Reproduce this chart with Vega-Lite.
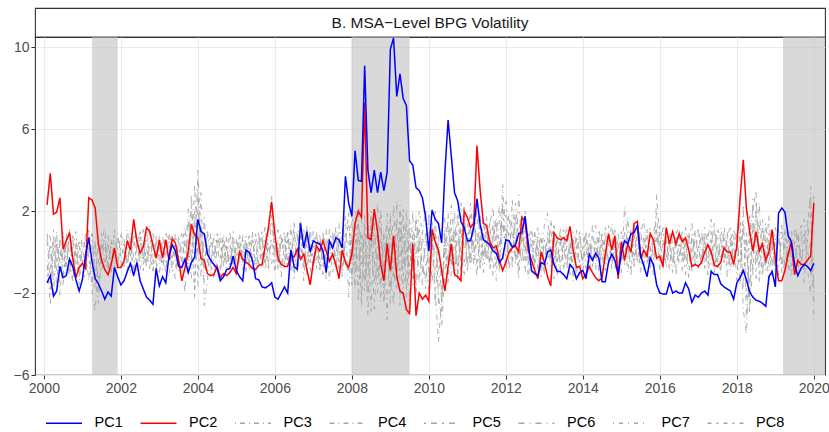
{
  "$schema": "https://vega.github.io/schema/vega-lite/v6.json",
  "background": "white",
  "padding": {"left": 12, "top": 7, "right": 5, "bottom": 0},
  "spacing": 0,
  "bounds": "flush",
  "config": {
    "font": "Liberation Sans",
    "axis": {
      "grid": true,
      "gridColor": "#EBEBEB",
      "gridWidth": 1.1,
      "domain": false,
      "ticks": true,
      "tickColor": "#333333",
      "tickSize": 4,
      "labelFontSize": 14,
      "labelColor": "#4D4D4D",
      "labelPadding": 2
    }
  },
  "vconcat": [
    {
      "width": 790,
      "height": 29,
      "view": {"stroke": "#333333", "strokeWidth": 1.1, "fill": "white"},
      "data": {"values": [{"label": "B. MSA−Level BPG Volatility"}]},
      "mark": {"type": "text", "fontSize": 15.5, "color": "#1A1A1A", "baseline": "middle", "align": "center"},
      "encoding": {"text": {"field": "label", "type": "nominal"}}
    },
    {
      "width": 790,
      "height": 338,
      "view": {"stroke": "#333333", "strokeWidth": 1.1},
      "layer": [
        {
          "data": {"values": [
            {"start": 2001.25, "end": 2001.917},
            {"start": 2007.99, "end": 2009.5},
            {"start": 2019.2, "end": 2020.6}
          ]},
          "mark": {"type": "rect", "color": "#BFBFBF", "opacity": 0.6, "clip": true},
          "encoding": {
            "x": {"field": "start", "type": "quantitative", "scale": {"domain": [1999.77, 2020.29], "nice": false, "zero": false},
                  "axis": {"values": [2000, 2002, 2004, 2006, 2008, 2010, 2012, 2014, 2016, 2018, 2020], "format": "d", "title": null}},
            "x2": {"field": "end"}
          }
        },
        {
          "data": {"name": "pcs"},
          "transform": [
            {"fold": ["PC1", "PC2", "PC3", "PC4", "PC5", "PC6", "PC7", "PC8"], "as": ["series", "value"]},
            {"filter": {"field": "series", "oneOf": ["PC3", "PC4", "PC5", "PC6", "PC7", "PC8"]}}
          ],
          "mark": {"type": "line", "strokeWidth": 0.9, "clip": true},
          "encoding": {
            "x": {"field": "t", "type": "quantitative"},
            "y": {"field": "value", "type": "quantitative", "scale": {"domain": [-6, 10.5], "nice": false, "zero": false},
                  "axis": {"values": [-6, -2, 2, 6, 10], "format": "d", "title": null}},
            "color": {"field": "series", "type": "nominal",
              "scale": {"domain": ["PC1", "PC2", "PC3", "PC4", "PC5", "PC6", "PC7", "PC8"],
                        "range": ["#0000FF", "#FF0000", "#A6A6A6", "#A6A6A6", "#A6A6A6", "#A6A6A6", "#A6A6A6", "#A6A6A6"]},
              "legend": {"orient": "none", "legendX": 10, "legendY": 396, "direction": "horizontal", "columns": 8, "title": null,
                         "symbolType": "stroke", "symbolSize": 1296, "symbolStrokeWidth": 1.5, "labelFontSize": 14.5,
                         "labelColor": "#000000", "labelOffset": 11.5, "columnPadding": 14.5, "padding": 0}},
            "strokeDash": {"field": "series", "type": "nominal",
              "scale": {"domain": ["PC1", "PC2", "PC3", "PC4", "PC5", "PC6", "PC7", "PC8"],
                        "range": [[1, 0], [1, 0], [1, 4, 5, 4], [5, 4, 1, 4], [2, 5, 6, 5], [6, 5, 1, 5], [1, 5, 4, 5], [4, 5, 2, 5]]},
              "legend": {"orient": "none", "legendX": 10, "legendY": 396, "direction": "horizontal", "columns": 8, "title": null,
                         "symbolType": "stroke", "symbolSize": 1296, "symbolStrokeWidth": 1.5, "labelFontSize": 14.5,
                         "labelColor": "#000000", "labelOffset": 11.5, "columnPadding": 14.5, "padding": 0}}
          }
        },
        {
          "data": {"name": "pcs"},
          "transform": [
            {"fold": ["PC1", "PC2", "PC3", "PC4", "PC5", "PC6", "PC7", "PC8"], "as": ["series", "value"]},
            {"filter": {"field": "series", "equal": "PC2"}}
          ],
          "mark": {"type": "line", "strokeWidth": 1.5, "clip": true},
          "encoding": {
            "x": {"field": "t", "type": "quantitative"},
            "y": {"field": "value", "type": "quantitative"},
            "color": {"field": "series", "type": "nominal"},
            "strokeDash": {"field": "series", "type": "nominal"}
          }
        },
        {
          "data": {"name": "pcs"},
          "transform": [
            {"fold": ["PC1", "PC2", "PC3", "PC4", "PC5", "PC6", "PC7", "PC8"], "as": ["series", "value"]},
            {"filter": {"field": "series", "equal": "PC1"}}
          ],
          "mark": {"type": "line", "strokeWidth": 1.5, "clip": true},
          "encoding": {
            "x": {"field": "t", "type": "quantitative"},
            "y": {"field": "value", "type": "quantitative"},
            "color": {"field": "series", "type": "nominal"},
            "strokeDash": {"field": "series", "type": "nominal"}
          }
        },
        {
          "mark": {"type": "rule", "color": "#000000", "strokeDash": [6, 5], "strokeWidth": 1.2},
          "encoding": {"y": {"datum": 0}}
        }
      ]
    }
  ],
  "datasets": {
    "pcs": [
      {"t":2000.083,"PC1":-1.5,"PC2":2.3,"PC3":-0.4,"PC4":0.6,"PC5":-1.2,"PC6":0.9,"PC7":-0.7,"PC8":0.3},
      {"t":2000.167,"PC1":-1.15,"PC2":3.85,"PC3":-2.6,"PC4":-1.5,"PC5":0.4,"PC6":-0.8,"PC7":-1.8,"PC8":0.9},
      {"t":2000.25,"PC1":-2.15,"PC2":1.85,"PC3":0.8,"PC4":-0.3,"PC5":-2.2,"PC6":0.2,"PC7":1.1,"PC8":-1.4},
      {"t":2000.333,"PC1":-1.9,"PC2":1.95,"PC3":-0.9,"PC4":1.0,"PC5":0.6,"PC6":-1.6,"PC7":-0.4,"PC8":0.4},
      {"t":2000.417,"PC1":-0.7,"PC2":2.65,"PC3":0.5,"PC4":-2.1,"PC5":-0.4,"PC6":0.6,"PC7":-1.0,"PC8":-0.5},
      {"t":2000.5,"PC1":-1.25,"PC2":0.15,"PC3":-1.2,"PC4":0.3,"PC5":1.0,"PC6":-0.5,"PC7":0.7,"PC8":-1.7},
      {"t":2000.583,"PC1":-1.15,"PC2":0.55,"PC3":0.9,"PC4":-0.8,"PC5":-1.1,"PC6":0.4,"PC7":-0.6,"PC8":0.6},
      {"t":2000.667,"PC1":-0.35,"PC2":0.95,"PC3":-0.3,"PC4":1.1,"PC5":-0.2,"PC6":-1.3,"PC7":0.9,"PC8":-0.9},
      {"t":2000.75,"PC1":-0.7,"PC2":-0.3,"PC3":-1.5,"PC4":-0.5,"PC5":0.7,"PC6":0.8,"PC7":-1.4,"PC8":0.2},
      {"t":2000.833,"PC1":-1.35,"PC2":-1.25,"PC3":0.4,"PC4":0.2,"PC5":-0.9,"PC6":-0.2,"PC7":0.5,"PC8":1.0},
      {"t":2000.917,"PC1":-1.9,"PC2":-0.75,"PC3":-0.8,"PC4":-1.6,"PC5":0.3,"PC6":0.5,"PC7":-0.3,"PC8":-1.2},
      {"t":2001.0,"PC1":-1.35,"PC2":-0.55,"PC3":0.2,"PC4":0.7,"PC5":-0.6,"PC6":-1.0,"PC7":0.9,"PC8":-0.4},
      {"t":2001.083,"PC1":-0.15,"PC2":-0.8,"PC3":-0.6,"PC4":0.2,"PC5":1.0,"PC6":-1.3,"PC7":0.6,"PC8":-0.5},
      {"t":2001.167,"PC1":0.7,"PC2":2.65,"PC3":0.9,"PC4":-1.4,"PC5":-0.3,"PC6":0.5,"PC7":-0.7,"PC8":1.2},
      {"t":2001.25,"PC1":-0.45,"PC2":2.55,"PC3":-1.9,"PC4":0.9,"PC5":-1.6,"PC6":0.9,"PC7":-0.8,"PC8":-0.4},
      {"t":2001.333,"PC1":-1.3,"PC2":2.15,"PC3":-2.9,"PC4":-1.0,"PC5":0.6,"PC6":-1.2,"PC7":0.4,"PC8":-1.8},
      {"t":2001.417,"PC1":-1.55,"PC2":0.4,"PC3":-0.5,"PC4":-2.5,"PC5":-2.0,"PC6":0.3,"PC7":-1.3,"PC8":0.7},
      {"t":2001.5,"PC1":-1.9,"PC2":-0.4,"PC3":0.6,"PC4":0.4,"PC5":-0.4,"PC6":-0.9,"PC7":0.9,"PC8":-0.2},
      {"t":2001.583,"PC1":-2.3,"PC2":-0.85,"PC3":-0.7,"PC4":1.2,"PC5":0.8,"PC6":-0.3,"PC7":-0.5,"PC8":0.3},
      {"t":2001.667,"PC1":-1.95,"PC2":-1.1,"PC3":0.4,"PC4":-0.6,"PC5":-1.1,"PC6":0.8,"PC7":0.2,"PC8":-0.9},
      {"t":2001.75,"PC1":-2.15,"PC2":-0.6,"PC3":-0.9,"PC4":0.3,"PC5":0.5,"PC6":-1.0,"PC7":0.7,"PC8":0.6},
      {"t":2001.833,"PC1":-0.75,"PC2":0.2,"PC3":1.1,"PC4":-0.8,"PC5":-0.2,"PC6":0.4,"PC7":-0.6,"PC8":0.8},
      {"t":2001.917,"PC1":-1.2,"PC2":-0.75,"PC3":-0.2,"PC4":0.9,"PC5":-0.7,"PC6":0.2,"PC7":0.4,"PC8":-0.7},
      {"t":2002.0,"PC1":-1.6,"PC2":-0.75,"PC3":-0.8,"PC4":-0.3,"PC5":1.0,"PC6":-0.5,"PC7":0.6,"PC8":0.3},
      {"t":2002.083,"PC1":-1.4,"PC2":-0.45,"PC3":0.5,"PC4":-0.7,"PC5":0.2,"PC6":-0.8,"PC7":-0.4,"PC8":0.7},
      {"t":2002.167,"PC1":-0.95,"PC2":0.55,"PC3":-0.6,"PC4":1.1,"PC5":-0.9,"PC6":0.6,"PC7":0.2,"PC8":-0.5},
      {"t":2002.25,"PC1":-0.55,"PC2":0.1,"PC3":0.9,"PC4":-0.2,"PC5":0.5,"PC6":-0.2,"PC7":-1.0,"PC8":0.4},
      {"t":2002.333,"PC1":-1.15,"PC2":1.6,"PC3":-0.3,"PC4":0.6,"PC5":-1.2,"PC6":0.9,"PC7":0.4,"PC8":-0.8},
      {"t":2002.417,"PC1":-0.5,"PC2":0.5,"PC3":-1.1,"PC4":0.9,"PC5":0.3,"PC6":-0.5,"PC7":0.8,"PC8":0.5},
      {"t":2002.5,"PC1":-1.4,"PC2":-0.05,"PC3":0.7,"PC4":-0.9,"PC5":1.0,"PC6":0.3,"PC7":-0.3,"PC8":0.9},
      {"t":2002.583,"PC1":-1.8,"PC2":0.25,"PC3":-0.4,"PC4":0.3,"PC5":-0.6,"PC6":1.1,"PC7":-0.9,"PC8":-0.1},
      {"t":2002.667,"PC1":-2.2,"PC2":1.2,"PC3":1.0,"PC4":-0.5,"PC5":0.2,"PC6":-0.8,"PC7":0.5,"PC8":-0.6},
      {"t":2002.75,"PC1":-2.35,"PC2":1.0,"PC3":-0.2,"PC4":1.3,"PC5":-0.8,"PC6":0.4,"PC7":0.9,"PC8":0.3},
      {"t":2002.833,"PC1":-2.55,"PC2":0.35,"PC3":-1.0,"PC4":-0.4,"PC5":0.9,"PC6":0.3,"PC7":-0.7,"PC8":-0.9},
      {"t":2002.917,"PC1":-0.8,"PC2":-0.3,"PC3":0.5,"PC4":-0.9,"PC5":-0.3,"PC6":-0.5,"PC7":0.6,"PC8":0.8},
      {"t":2003.0,"PC1":-1.65,"PC2":0.6,"PC3":-0.6,"PC4":0.8,"PC5":0.4,"PC6":-1.1,"PC7":0.2,"PC8":-0.2},
      {"t":2003.083,"PC1":-1.2,"PC2":-0.3,"PC3":0.8,"PC4":-0.3,"PC5":-0.9,"PC6":0.4,"PC7":-0.5,"PC8":0.3},
      {"t":2003.167,"PC1":-1.5,"PC2":0.6,"PC3":-0.5,"PC4":1.0,"PC5":0.3,"PC6":-1.1,"PC7":0.7,"PC8":-0.2},
      {"t":2003.25,"PC1":-0.2,"PC2":-0.4,"PC3":-1.2,"PC4":0.4,"PC5":0.7,"PC6":0.9,"PC7":-0.3,"PC8":0.8},
      {"t":2003.333,"PC1":0.35,"PC2":0.65,"PC3":0.6,"PC4":-0.7,"PC5":-0.4,"PC6":0.3,"PC7":0.9,"PC8":-1.0},
      {"t":2003.417,"PC1":0.05,"PC2":0.45,"PC3":0.1,"PC4":-1.3,"PC5":0.9,"PC6":-0.4,"PC7":-0.7,"PC8":0.7},
      {"t":2003.5,"PC1":-0.7,"PC2":-0.4,"PC3":-0.9,"PC4":0.8,"PC5":-0.3,"PC6":0.6,"PC7":-0.2,"PC8":0.5},
      {"t":2003.583,"PC1":-0.75,"PC2":-1.4,"PC3":0.4,"PC4":-0.2,"PC5":-1.0,"PC6":0.9,"PC7":0.6,"PC8":-0.5},
      {"t":2003.667,"PC1":-0.35,"PC2":-0.75,"PC3":1.2,"PC4":-2.0,"PC5":0.6,"PC6":-0.6,"PC7":0.3,"PC8":0.9},
      {"t":2003.75,"PC1":-1.0,"PC2":0.05,"PC3":-0.3,"PC4":1.6,"PC5":-0.9,"PC6":2.1,"PC7":-0.6,"PC8":0.4},
      {"t":2003.833,"PC1":-0.5,"PC2":1.35,"PC3":2.8,"PC4":-0.5,"PC5":2.2,"PC6":-0.3,"PC7":1.4,"PC8":-1.3},
      {"t":2003.917,"PC1":-0.25,"PC2":0.85,"PC3":-1.9,"PC4":3.3,"PC5":0.4,"PC6":1.5,"PC7":-2.3,"PC8":2.0},
      {"t":2004.0,"PC1":1.6,"PC2":0.7,"PC3":4.0,"PC4":-0.2,"PC5":3.4,"PC6":-0.8,"PC7":2.6,"PC8":-1.7},
      {"t":2004.083,"PC1":1.0,"PC2":-0.3,"PC3":0.6,"PC4":2.9,"PC5":-1.2,"PC6":1.4,"PC7":-0.4,"PC8":1.2},
      {"t":2004.167,"PC1":0.9,"PC2":-0.4,"PC3":-0.8,"PC4":-2.6,"PC5":1.7,"PC6":-1.5,"PC7":0.6,"PC8":-0.4},
      {"t":2004.25,"PC1":-0.1,"PC2":-1.05,"PC3":1.1,"PC4":-1.4,"PC5":-0.5,"PC6":0.4,"PC7":0.9,"PC8":0.5},
      {"t":2004.333,"PC1":-0.4,"PC2":-1.15,"PC3":-0.4,"PC4":0.9,"PC5":0.3,"PC6":-0.6,"PC7":-1.1,"PC8":0.7},
      {"t":2004.417,"PC1":-0.6,"PC2":-1.1,"PC3":-1.3,"PC4":-0.2,"PC5":0.7,"PC6":0.9,"PC7":0.3,"PC8":-0.7},
      {"t":2004.5,"PC1":-0.8,"PC2":-0.7,"PC3":0.2,"PC4":0.6,"PC5":-0.8,"PC6":0.4,"PC7":-0.2,"PC8":0.9},
      {"t":2004.583,"PC1":-1.4,"PC2":-1.25,"PC3":0.9,"PC4":-0.9,"PC5":-1.1,"PC6":-0.3,"PC7":0.6,"PC8":0.3},
      {"t":2004.667,"PC1":-1.2,"PC2":-1.05,"PC3":-0.6,"PC4":0.4,"PC5":0.6,"PC6":0.9,"PC7":-0.7,"PC8":-0.4},
      {"t":2004.75,"PC1":-0.85,"PC2":-1.15,"PC3":0.3,"PC4":-0.5,"PC5":0.1,"PC6":-0.8,"PC7":0.8,"PC8":0.6},
      {"t":2004.833,"PC1":-0.8,"PC2":-1.0,"PC3":-1.0,"PC4":1.0,"PC5":-0.5,"PC6":0.2,"PC7":0.4,"PC8":-0.8},
      {"t":2004.917,"PC1":-0.2,"PC2":-0.75,"PC3":0.5,"PC4":-0.6,"PC5":1.0,"PC6":-0.4,"PC7":-0.7,"PC8":0.3},
      {"t":2005.0,"PC1":-0.9,"PC2":-1.05,"PC3":-0.2,"PC4":0.3,"PC5":-0.9,"PC6":0.7,"PC7":0.5,"PC8":-0.4},
      {"t":2005.083,"PC1":-1.2,"PC2":0.0,"PC3":0.7,"PC4":-0.4,"PC5":0.3,"PC6":-0.6,"PC7":0.2,"PC8":0.9},
      {"t":2005.167,"PC1":-1.4,"PC2":-0.35,"PC3":-0.9,"PC4":0.8,"PC5":-0.5,"PC6":0.3,"PC7":0.6,"PC8":-0.3},
      {"t":2005.25,"PC1":0.1,"PC2":-0.5,"PC3":0.4,"PC4":-1.0,"PC5":0.8,"PC6":-0.1,"PC7":-0.6,"PC8":0.5},
      {"t":2005.333,"PC1":0.0,"PC2":-0.6,"PC3":-0.3,"PC4":0.5,"PC5":-0.9,"PC6":0.8,"PC7":0.3,"PC8":-0.6},
      {"t":2005.417,"PC1":-0.4,"PC2":-0.8,"PC3":1.0,"PC4":-0.3,"PC5":-0.2,"PC6":-0.8,"PC7":0.8,"PC8":0.6},
      {"t":2005.5,"PC1":-1.3,"PC2":-0.85,"PC3":-1.1,"PC4":0.9,"PC5":0.5,"PC6":-0.4,"PC7":-0.7,"PC8":-0.5},
      {"t":2005.583,"PC1":-1.35,"PC2":-0.65,"PC3":0.2,"PC4":-0.7,"PC5":1.0,"PC6":0.7,"PC7":-0.3,"PC8":0.9},
      {"t":2005.667,"PC1":-1.7,"PC2":-0.6,"PC3":0.8,"PC4":0.2,"PC5":-0.8,"PC6":-0.2,"PC7":1.0,"PC8":0.4},
      {"t":2005.75,"PC1":-1.75,"PC2":0.3,"PC3":-0.6,"PC4":1.3,"PC5":-0.3,"PC6":0.6,"PC7":-0.9,"PC8":-0.4},
      {"t":2005.833,"PC1":-1.65,"PC2":1.2,"PC3":1.2,"PC4":-0.5,"PC5":0.9,"PC6":-0.9,"PC7":0.4,"PC8":0.2},
      {"t":2005.917,"PC1":-1.5,"PC2":2.45,"PC3":2.8,"PC4":0.6,"PC5":1.5,"PC6":1.8,"PC7":-0.6,"PC8":0.6},
      {"t":2006.0,"PC1":-2.2,"PC2":0.9,"PC3":-0.8,"PC4":1.1,"PC5":0.4,"PC6":-0.2,"PC7":0.8,"PC8":-1.0},
      {"t":2006.083,"PC1":-2.3,"PC2":-0.3,"PC3":0.3,"PC4":-0.9,"PC5":-0.6,"PC6":1.1,"PC7":-0.5,"PC8":0.5},
      {"t":2006.167,"PC1":-2.0,"PC2":-0.6,"PC3":-1.2,"PC4":0.8,"PC5":0.5,"PC6":-0.4,"PC7":0.3,"PC8":0.9},
      {"t":2006.25,"PC1":-1.7,"PC2":-0.7,"PC3":0.6,"PC4":-0.3,"PC5":1.0,"PC6":-0.8,"PC7":0.9,"PC8":-0.6},
      {"t":2006.333,"PC1":-2.0,"PC2":-0.7,"PC3":-0.4,"PC4":1.0,"PC5":-0.8,"PC6":0.6,"PC7":-0.6,"PC8":1.1},
      {"t":2006.417,"PC1":0.1,"PC2":-0.1,"PC3":1.3,"PC4":-0.6,"PC5":0.2,"PC6":-0.2,"PC7":0.5,"PC8":-0.9},
      {"t":2006.5,"PC1":-0.7,"PC2":-0.25,"PC3":-0.9,"PC4":1.5,"PC5":-1.3,"PC6":0.8,"PC7":1.0,"PC8":0.4},
      {"t":2006.583,"PC1":-0.85,"PC2":0.15,"PC3":0.5,"PC4":-1.0,"PC5":0.9,"PC6":1.0,"PC7":-0.8,"PC8":-0.2},
      {"t":2006.667,"PC1":1.4,"PC2":-0.35,"PC3":1.7,"PC4":0.4,"PC5":0.3,"PC6":-0.3,"PC7":-0.4,"PC8":0.9},
      {"t":2006.75,"PC1":0.2,"PC2":-0.1,"PC3":-1.4,"PC4":0.9,"PC5":-0.7,"PC6":0.5,"PC7":1.1,"PC8":-0.5},
      {"t":2006.833,"PC1":1.0,"PC2":-0.85,"PC3":0.7,"PC4":-1.1,"PC5":1.3,"PC6":-0.6,"PC7":0.3,"PC8":0.8},
      {"t":2006.917,"PC1":0.0,"PC2":-1.6,"PC3":-0.5,"PC4":1.2,"PC5":-0.2,"PC6":0.9,"PC7":-1.0,"PC8":0.3},
      {"t":2007.0,"PC1":0.55,"PC2":-0.5,"PC3":1.1,"PC4":-0.4,"PC5":0.6,"PC6":-0.9,"PC7":0.4,"PC8":-0.7},
      {"t":2007.083,"PC1":0.45,"PC2":0.3,"PC3":-0.8,"PC4":0.9,"PC5":0.4,"PC6":0.3,"PC7":-0.4,"PC8":1.0},
      {"t":2007.167,"PC1":0.4,"PC2":0.05,"PC3":0.4,"PC4":-0.7,"PC5":-1.0,"PC6":0.9,"PC7":0.8,"PC8":-0.5},
      {"t":2007.25,"PC1":0.05,"PC2":0.55,"PC3":1.0,"PC4":0.3,"PC5":0.8,"PC6":-1.1,"PC7":-0.6,"PC8":-0.8},
      {"t":2007.333,"PC1":-1.0,"PC2":0.05,"PC3":-1.3,"PC4":1.1,"PC5":-0.5,"PC6":0.5,"PC7":0.3,"PC8":0.7},
      {"t":2007.417,"PC1":0.55,"PC2":-0.45,"PC3":0.6,"PC4":-1.4,"PC5":1.1,"PC6":-0.4,"PC7":0.7,"PC8":0.3},
      {"t":2007.5,"PC1":0.2,"PC2":-0.1,"PC3":-0.2,"PC4":0.8,"PC5":0.2,"PC6":1.0,"PC7":-1.1,"PC8":0.6},
      {"t":2007.583,"PC1":0.7,"PC2":-0.6,"PC3":1.2,"PC4":-0.3,"PC5":-0.9,"PC6":-0.7,"PC7":0.6,"PC8":1.0},
      {"t":2007.667,"PC1":0.6,"PC2":-1.3,"PC3":-0.9,"PC4":1.4,"PC5":0.7,"PC6":0.4,"PC7":0.2,"PC8":-0.6},
      {"t":2007.75,"PC1":0.2,"PC2":0.1,"PC3":0.3,"PC4":-1.0,"PC5":1.2,"PC6":-1.2,"PC7":-0.7,"PC8":0.9},
      {"t":2007.833,"PC1":3.7,"PC2":-0.5,"PC3":1.8,"PC4":0.5,"PC5":-0.6,"PC6":0.6,"PC7":1.0,"PC8":-0.4},
      {"t":2007.917,"PC1":2.4,"PC2":-0.75,"PC3":-2.2,"PC4":2.0,"PC5":-1.0,"PC6":1.4,"PC7":0.4,"PC8":-0.6},
      {"t":2008.0,"PC1":1.75,"PC2":-0.1,"PC3":0.9,"PC4":-1.6,"PC5":2.1,"PC6":-0.4,"PC7":-1.3,"PC8":0.3},
      {"t":2008.083,"PC1":4.95,"PC2":1.4,"PC3":-1.8,"PC4":1.5,"PC5":-0.6,"PC6":0.9,"PC7":2.0,"PC8":-1.0},
      {"t":2008.167,"PC1":3.5,"PC2":2.0,"PC3":2.2,"PC4":-2.4,"PC5":0.9,"PC6":-1.6,"PC7":-0.5,"PC8":1.5},
      {"t":2008.25,"PC1":3.45,"PC2":1.7,"PC3":-2.7,"PC4":0.8,"PC5":-2.1,"PC6":1.6,"PC7":0.9,"PC8":-0.6},
      {"t":2008.333,"PC1":9.1,"PC2":7.3,"PC3":1.4,"PC4":-1.6,"PC5":1.9,"PC6":-0.5,"PC7":-1.9,"PC8":0.9},
      {"t":2008.417,"PC1":4.0,"PC2":0.7,"PC3":-3.1,"PC4":2.0,"PC5":-0.8,"PC6":-2.2,"PC7":1.2,"PC8":-1.5},
      {"t":2008.5,"PC1":2.9,"PC2":0.6,"PC3":0.6,"PC4":-2.9,"PC5":1.4,"PC6":1.8,"PC7":0.3,"PC8":2.0},
      {"t":2008.583,"PC1":4.0,"PC2":2.1,"PC3":-1.5,"PC4":1.2,"PC5":-2.8,"PC6":-0.4,"PC7":1.7,"PC8":0.6},
      {"t":2008.667,"PC1":2.9,"PC2":1.0,"PC3":2.4,"PC4":-0.9,"PC5":0.5,"PC6":-2.0,"PC7":-1.6,"PC8":-0.5},
      {"t":2008.75,"PC1":3.9,"PC2":-0.6,"PC3":-2.4,"PC4":1.8,"PC5":2.1,"PC6":1.2,"PC7":0.4,"PC8":-1.6},
      {"t":2008.833,"PC1":3.0,"PC2":-1.4,"PC3":1.1,"PC4":-2.6,"PC5":-1.4,"PC6":-1.0,"PC7":-2.2,"PC8":0.7},
      {"t":2008.917,"PC1":3.9,"PC2":0.4,"PC3":-3.3,"PC4":0.5,"PC5":0.9,"PC6":1.9,"PC7":1.5,"PC8":-0.6},
      {"t":2009.0,"PC1":9.9,"PC2":-0.9,"PC3":1.9,"PC4":-1.9,"PC5":-2.5,"PC6":-0.7,"PC7":0.8,"PC8":1.3},
      {"t":2009.083,"PC1":10.45,"PC2":0.8,"PC3":-1.2,"PC4":2.3,"PC5":0.7,"PC6":-2.6,"PC7":-1.5,"PC8":0.4},
      {"t":2009.167,"PC1":7.6,"PC2":-1.2,"PC3":2.5,"PC4":-0.8,"PC5":-1.9,"PC6":1.4,"PC7":0.5,"PC8":-1.3},
      {"t":2009.25,"PC1":8.7,"PC2":-1.9,"PC3":-2.6,"PC4":1.2,"PC5":2.3,"PC6":-0.9,"PC7":1.6,"PC8":0.8},
      {"t":2009.333,"PC1":7.5,"PC2":-2.0,"PC3":0.8,"PC4":-2.1,"PC5":-0.6,"PC6":1.8,"PC7":-1.3,"PC8":2.1},
      {"t":2009.417,"PC1":7.15,"PC2":-2.8,"PC3":-1.8,"PC4":0.4,"PC5":1.4,"PC6":-2.2,"PC7":2.1,"PC8":-0.5},
      {"t":2009.5,"PC1":4.45,"PC2":-3.0,"PC3":1.6,"PC4":-1.1,"PC5":-2.4,"PC6":0.6,"PC7":-0.8,"PC8":1.0},
      {"t":2009.583,"PC1":4.25,"PC2":0.4,"PC3":-0.6,"PC4":2.0,"PC5":0.9,"PC6":-1.0,"PC7":0.6,"PC8":-1.6},
      {"t":2009.667,"PC1":3.15,"PC2":-3.1,"PC3":1.8,"PC4":-1.9,"PC5":-0.3,"PC6":1.5,"PC7":-2.0,"PC8":0.4},
      {"t":2009.75,"PC1":3.0,"PC2":-2.0,"PC3":-1.5,"PC4":0.6,"PC5":1.2,"PC6":0.2,"PC7":1.1,"PC8":2.0},
      {"t":2009.833,"PC1":2.65,"PC2":-2.3,"PC3":0.9,"PC4":-0.8,"PC5":-1.0,"PC6":-1.6,"PC7":0.3,"PC8":0.8},
      {"t":2009.917,"PC1":1.7,"PC2":-2.1,"PC3":2.1,"PC4":-1.4,"PC5":0.5,"PC6":1.0,"PC7":-1.8,"PC8":-0.6},
      {"t":2010.0,"PC1":0.05,"PC2":-2.4,"PC3":-1.2,"PC4":1.6,"PC5":1.8,"PC6":-0.8,"PC7":0.8,"PC8":-1.8},
      {"t":2010.083,"PC1":2.05,"PC2":1.1,"PC3":0.7,"PC4":-1.5,"PC5":-0.3,"PC6":1.2,"PC7":1.6,"PC8":0.6},
      {"t":2010.167,"PC1":1.6,"PC2":0.5,"PC3":-1.9,"PC4":0.9,"PC5":2.0,"PC6":-2.6,"PC7":-1.1,"PC8":1.0},
      {"t":2010.25,"PC1":1.4,"PC2":0.1,"PC3":-4.4,"PC4":-2.0,"PC5":-2.5,"PC6":0.9,"PC7":0.4,"PC8":-0.9},
      {"t":2010.333,"PC1":0.45,"PC2":-0.9,"PC3":-2.2,"PC4":-3.6,"PC5":-3.0,"PC6":-1.8,"PC7":-2.5,"PC8":-2.4},
      {"t":2010.417,"PC1":3.9,"PC2":-1.9,"PC3":0.5,"PC4":-1.0,"PC5":1.1,"PC6":0.6,"PC7":1.7,"PC8":0.4},
      {"t":2010.5,"PC1":6.45,"PC2":-0.7,"PC3":1.4,"PC4":1.9,"PC5":-0.5,"PC6":-1.1,"PC7":0.3,"PC8":-1.6},
      {"t":2010.583,"PC1":4.7,"PC2":0.4,"PC3":-0.8,"PC4":-0.5,"PC5":1.3,"PC6":2.3,"PC7":-1.2,"PC8":0.8},
      {"t":2010.667,"PC1":2.9,"PC2":-1.1,"PC3":2.0,"PC4":1.1,"PC5":-1.2,"PC6":0.3,"PC7":0.6,"PC8":-0.6},
      {"t":2010.75,"PC1":2.5,"PC2":-1.2,"PC3":-1.1,"PC4":-1.4,"PC5":0.9,"PC6":-0.8,"PC7":1.5,"PC8":2.1},
      {"t":2010.833,"PC1":1.5,"PC2":-1.4,"PC3":0.6,"PC4":2.4,"PC5":-0.4,"PC6":1.1,"PC7":-0.9,"PC8":-0.2},
      {"t":2010.917,"PC1":1.2,"PC2":2.0,"PC3":1.7,"PC4":0.2,"PC5":2.2,"PC6":-0.5,"PC7":0.9,"PC8":-1.2},
      {"t":2011.0,"PC1":0.55,"PC2":1.7,"PC3":-0.6,"PC4":1.0,"PC5":-1.0,"PC6":0.8,"PC7":1.6,"PC8":0.5},
      {"t":2011.083,"PC1":0.55,"PC2":1.2,"PC3":2.4,"PC4":-0.5,"PC5":1.2,"PC6":-0.8,"PC7":-0.3,"PC8":1.9},
      {"t":2011.167,"PC1":1.2,"PC2":1.4,"PC3":0.3,"PC4":1.6,"PC5":-0.6,"PC6":1.4,"PC7":2.1,"PC8":-0.2},
      {"t":2011.25,"PC1":2.6,"PC2":5.2,"PC3":-1.2,"PC4":2.0,"PC5":2.6,"PC6":0.2,"PC7":-0.8,"PC8":0.9},
      {"t":2011.333,"PC1":1.35,"PC2":3.0,"PC3":1.3,"PC4":-0.8,"PC5":0.8,"PC6":1.9,"PC7":0.7,"PC8":-0.8},
      {"t":2011.417,"PC1":0.6,"PC2":1.4,"PC3":-0.4,"PC4":0.9,"PC5":-1.0,"PC6":-0.4,"PC7":1.5,"PC8":1.7},
      {"t":2011.5,"PC1":0.5,"PC2":1.3,"PC3":1.8,"PC4":-0.3,"PC5":0.5,"PC6":1.1,"PC7":-0.6,"PC8":0.3},
      {"t":2011.583,"PC1":0.35,"PC2":0.5,"PC3":-0.9,"PC4":1.5,"PC5":1.3,"PC6":-0.7,"PC7":0.5,"PC8":-0.4},
      {"t":2011.667,"PC1":0.05,"PC2":0.2,"PC3":0.6,"PC4":-1.2,"PC5":2.2,"PC6":0.9,"PC7":1.4,"PC8":1.3},
      {"t":2011.75,"PC1":-0.05,"PC2":0.3,"PC3":1.4,"PC4":0.8,"PC5":-0.6,"PC6":1.7,"PC7":-1.4,"PC8":0.5},
      {"t":2011.833,"PC1":-0.5,"PC2":-0.4,"PC3":-1.0,"PC4":2.3,"PC5":0.4,"PC6":-0.8,"PC7":1.6,"PC8":-0.2},
      {"t":2011.917,"PC1":-0.3,"PC2":-0.9,"PC3":3.3,"PC4":-0.4,"PC5":2.1,"PC6":2.5,"PC7":0.7,"PC8":1.2},
      {"t":2012.0,"PC1":0.6,"PC2":-0.5,"PC3":0.4,"PC4":1.1,"PC5":-0.5,"PC6":-1.0,"PC7":1.8,"PC8":2.6},
      {"t":2012.083,"PC1":0.55,"PC2":0.0,"PC3":1.9,"PC4":-0.6,"PC5":0.9,"PC6":0.7,"PC7":-0.9,"PC8":0.5},
      {"t":2012.167,"PC1":0.25,"PC2":0.2,"PC3":-0.8,"PC4":2.6,"PC5":1.5,"PC6":-0.4,"PC7":0.8,"PC8":1.1},
      {"t":2012.25,"PC1":0.35,"PC2":0.3,"PC3":2.4,"PC4":-0.2,"PC5":-0.6,"PC6":1.8,"PC7":1.2,"PC8":0.6},
      {"t":2012.333,"PC1":0.9,"PC2":0.0,"PC3":0.5,"PC4":1.1,"PC5":2.8,"PC6":-0.9,"PC7":-0.7,"PC8":-1.3},
      {"t":2012.417,"PC1":0.95,"PC2":1.7,"PC3":-0.5,"PC4":1.8,"PC5":0.2,"PC6":0.9,"PC7":0.3,"PC8":1.4},
      {"t":2012.5,"PC1":1.75,"PC2":1.5,"PC3":1.2,"PC4":-0.4,"PC5":-1.0,"PC6":0.3,"PC7":2.0,"PC8":-0.3},
      {"t":2012.583,"PC1":0.4,"PC2":0.1,"PC3":-1.3,"PC4":0.6,"PC5":0.7,"PC6":-0.6,"PC7":-0.3,"PC8":0.9},
      {"t":2012.667,"PC1":-0.9,"PC2":-0.4,"PC3":0.4,"PC4":-1.0,"PC5":1.1,"PC6":1.0,"PC7":-0.8,"PC8":0.5},
      {"t":2012.75,"PC1":-1.05,"PC2":-0.9,"PC3":-0.9,"PC4":1.0,"PC5":-0.5,"PC6":0.4,"PC7":0.9,"PC8":-0.7},
      {"t":2012.833,"PC1":-1.15,"PC2":-1.3,"PC3":0.8,"PC4":-0.3,"PC5":0.2,"PC6":-0.8,"PC7":0.1,"PC8":1.2},
      {"t":2012.917,"PC1":-0.5,"PC2":0.0,"PC3":-0.2,"PC4":0.9,"PC5":-1.2,"PC6":0.3,"PC7":0.6,"PC8":-0.4},
      {"t":2013.0,"PC1":-0.6,"PC2":-0.5,"PC3":1.3,"PC4":-1.1,"PC5":0.6,"PC6":-0.5,"PC7":-1.0,"PC8":0.6},
      {"t":2013.083,"PC1":0.0,"PC2":-1.2,"PC3":1.9,"PC4":0.2,"PC5":-0.3,"PC6":0.7,"PC7":1.0,"PC8":-0.6},
      {"t":2013.167,"PC1":0.1,"PC2":-1.65,"PC3":-0.5,"PC4":1.1,"PC5":1.6,"PC6":-0.7,"PC7":0.3,"PC8":0.8},
      {"t":2013.25,"PC1":-0.6,"PC2":0.95,"PC3":0.9,"PC4":-0.4,"PC5":0.4,"PC6":1.3,"PC7":-1.3,"PC8":1.0},
      {"t":2013.333,"PC1":-0.95,"PC2":0.7,"PC3":-1.2,"PC4":0.8,"PC5":-0.6,"PC6":0.2,"PC7":0.6,"PC8":-0.4},
      {"t":2013.417,"PC1":-0.95,"PC2":0.6,"PC3":0.3,"PC4":-0.9,"PC5":1.2,"PC6":-0.5,"PC7":0.8,"PC8":0.5},
      {"t":2013.5,"PC1":-1.1,"PC2":0.7,"PC3":1.1,"PC4":0.5,"PC5":-0.9,"PC6":0.8,"PC7":-0.3,"PC8":0.3},
      {"t":2013.583,"PC1":-1.3,"PC2":0.55,"PC3":-0.7,"PC4":1.2,"PC5":0.3,"PC6":0.1,"PC7":0.9,"PC8":-0.8},
      {"t":2013.667,"PC1":-0.6,"PC2":1.25,"PC3":0.6,"PC4":-0.2,"PC5":-0.4,"PC6":-1.1,"PC7":0.4,"PC8":0.6},
      {"t":2013.75,"PC1":-0.8,"PC2":0.1,"PC3":-1.4,"PC4":0.7,"PC5":1.0,"PC6":0.6,"PC7":-0.7,"PC8":-0.3},
      {"t":2013.833,"PC1":-1.3,"PC2":-0.75,"PC3":0.2,"PC4":-1.2,"PC5":0.5,"PC6":-0.3,"PC7":1.1,"PC8":0.7},
      {"t":2013.917,"PC1":-1.0,"PC2":-0.7,"PC3":1.0,"PC4":0.4,"PC5":-1.1,"PC6":0.9,"PC7":-0.5,"PC8":0.2},
      {"t":2014.0,"PC1":-0.9,"PC2":-1.3,"PC3":-0.6,"PC4":0.9,"PC5":0.3,"PC6":-0.9,"PC7":0.2,"PC8":-0.4},
      {"t":2014.083,"PC1":-1.3,"PC2":-1.05,"PC3":0.5,"PC4":-0.8,"PC5":1.0,"PC6":-0.2,"PC7":0.9,"PC8":0.8},
      {"t":2014.167,"PC1":-0.1,"PC2":-0.7,"PC3":-1.1,"PC4":0.4,"PC5":-0.5,"PC6":0.9,"PC7":0.1,"PC8":-0.2},
      {"t":2014.25,"PC1":-0.4,"PC2":-1.0,"PC3":0.8,"PC4":-0.2,"PC5":1.3,"PC6":-0.7,"PC7":-0.4,"PC8":0.4},
      {"t":2014.333,"PC1":-0.05,"PC2":-1.25,"PC3":1.3,"PC4":-0.9,"PC5":-0.3,"PC6":0.5,"PC7":0.6,"PC8":-0.6},
      {"t":2014.417,"PC1":-0.3,"PC2":-1.4,"PC3":-0.4,"PC4":1.1,"PC5":0.6,"PC6":-1.0,"PC7":-0.3,"PC8":0.8},
      {"t":2014.5,"PC1":-1.45,"PC2":-1.25,"PC3":0.9,"PC4":0.2,"PC5":-1.2,"PC6":0.4,"PC7":1.0,"PC8":-0.4},
      {"t":2014.583,"PC1":-1.45,"PC2":-0.1,"PC3":-0.9,"PC4":-0.6,"PC5":1.0,"PC6":0.6,"PC7":-0.4,"PC8":1.2},
      {"t":2014.667,"PC1":-0.5,"PC2":0.9,"PC3":0.3,"PC4":1.3,"PC5":-0.5,"PC6":-0.6,"PC7":0.8,"PC8":0.3},
      {"t":2014.75,"PC1":-0.1,"PC2":0.1,"PC3":1.4,"PC4":-0.8,"PC5":0.3,"PC6":0.9,"PC7":-0.6,"PC8":-0.3},
      {"t":2014.833,"PC1":-0.4,"PC2":0.8,"PC3":-0.3,"PC4":0.6,"PC5":1.2,"PC6":-0.9,"PC7":0.4,"PC8":0.6},
      {"t":2014.917,"PC1":-1.1,"PC2":-1.3,"PC3":0.7,"PC4":0.2,"PC5":-0.8,"PC6":0.3,"PC7":0.9,"PC8":-1.1},
      {"t":2015.0,"PC1":-0.05,"PC2":0.5,"PC3":-1.0,"PC4":1.0,"PC5":0.5,"PC6":0.8,"PC7":-0.5,"PC8":0.4},
      {"t":2015.083,"PC1":0.55,"PC2":-0.4,"PC3":2.2,"PC4":-0.5,"PC5":-0.3,"PC6":0.6,"PC7":1.0,"PC8":-0.6},
      {"t":2015.167,"PC1":0.4,"PC2":0.4,"PC3":0.4,"PC4":1.7,"PC5":1.0,"PC6":-0.4,"PC7":-1.0,"PC8":0.8},
      {"t":2015.25,"PC1":0.9,"PC2":0.0,"PC3":-0.8,"PC4":0.3,"PC5":-1.1,"PC6":1.1,"PC7":0.5,"PC8":0.6},
      {"t":2015.333,"PC1":0.95,"PC2":1.4,"PC3":1.2,"PC4":-0.7,"PC5":0.7,"PC6":-0.6,"PC7":0.9,"PC8":-0.3},
      {"t":2015.417,"PC1":1.3,"PC2":1.5,"PC3":-0.5,"PC4":0.8,"PC5":1.4,"PC6":0.3,"PC7":-0.4,"PC8":1.0},
      {"t":2015.5,"PC1":-0.2,"PC2":-0.3,"PC3":0.9,"PC4":-1.0,"PC5":0.2,"PC6":1.2,"PC7":-0.6,"PC8":0.4},
      {"t":2015.583,"PC1":-0.65,"PC2":0.1,"PC3":1.6,"PC4":0.4,"PC5":-0.8,"PC6":-0.5,"PC7":0.8,"PC8":-0.9},
      {"t":2015.667,"PC1":-1.2,"PC2":-0.2,"PC3":-0.6,"PC4":1.1,"PC5":0.6,"PC6":0.2,"PC7":-0.3,"PC8":0.8},
      {"t":2015.75,"PC1":-0.3,"PC2":0.9,"PC3":0.3,"PC4":-0.6,"PC5":1.2,"PC6":-0.9,"PC7":1.0,"PC8":0.2},
      {"t":2015.833,"PC1":-0.6,"PC2":0.6,"PC3":-1.2,"PC4":0.9,"PC5":-0.4,"PC6":0.7,"PC7":0.5,"PC8":-0.8},
      {"t":2015.917,"PC1":-1.6,"PC2":-0.3,"PC3":2.8,"PC4":1.9,"PC5":1.1,"PC6":1.2,"PC7":-0.5,"PC8":0.7},
      {"t":2016.0,"PC1":-2.0,"PC2":-0.2,"PC3":0.5,"PC4":-0.9,"PC5":0.3,"PC6":-0.7,"PC7":1.4,"PC8":0.9},
      {"t":2016.083,"PC1":-2.05,"PC2":-0.7,"PC3":-0.7,"PC4":0.6,"PC5":1.2,"PC6":-0.3,"PC7":0.3,"PC8":-0.9},
      {"t":2016.167,"PC1":-2.05,"PC2":1.2,"PC3":1.1,"PC4":-0.3,"PC5":-0.8,"PC6":0.7,"PC7":0.9,"PC8":0.4},
      {"t":2016.25,"PC1":-1.5,"PC2":0.4,"PC3":0.2,"PC4":1.0,"PC5":0.4,"PC6":-0.9,"PC7":-0.5,"PC8":0.8},
      {"t":2016.333,"PC1":-2.0,"PC2":1.0,"PC3":-1.0,"PC4":0.5,"PC5":-0.5,"PC6":0.9,"PC7":0.2,"PC8":-0.6},
      {"t":2016.417,"PC1":-1.9,"PC2":0.4,"PC3":0.8,"PC4":-1.1,"PC5":1.0,"PC6":0.3,"PC7":-0.8,"PC8":0.2},
      {"t":2016.5,"PC1":-2.0,"PC2":0.9,"PC3":1.3,"PC4":0.4,"PC5":-0.2,"PC6":-0.6,"PC7":1.0,"PC8":0.9},
      {"t":2016.583,"PC1":-2.0,"PC2":0.5,"PC3":-0.4,"PC4":-0.2,"PC5":0.7,"PC6":1.1,"PC7":0.5,"PC8":-1.0},
      {"t":2016.667,"PC1":-1.5,"PC2":0.7,"PC3":0.6,"PC4":1.2,"PC5":-1.1,"PC6":-0.2,"PC7":-0.4,"PC8":0.4},
      {"t":2016.75,"PC1":-1.8,"PC2":0.1,"PC3":-1.3,"PC4":0.3,"PC5":0.5,"PC6":-0.7,"PC7":0.8,"PC8":1.0},
      {"t":2016.833,"PC1":-2.45,"PC2":-0.7,"PC3":0.9,"PC4":-0.9,"PC5":1.4,"PC6":0.6,"PC7":-0.2,"PC8":-0.3},
      {"t":2016.917,"PC1":-2.1,"PC2":-0.6,"PC3":0.1,"PC4":0.7,"PC5":-0.6,"PC6":-0.3,"PC7":1.1,"PC8":0.9},
      {"t":2017.0,"PC1":-2.2,"PC2":-0.7,"PC3":-0.8,"PC4":1.1,"PC5":0.3,"PC6":1.0,"PC7":-0.6,"PC8":0.2},
      {"t":2017.083,"PC1":-2.0,"PC2":-0.5,"PC3":1.0,"PC4":-0.5,"PC5":-0.7,"PC6":0.4,"PC7":-0.2,"PC8":0.8},
      {"t":2017.167,"PC1":-1.9,"PC2":0.0,"PC3":-0.5,"PC4":0.8,"PC5":1.2,"PC6":-0.8,"PC7":0.5,"PC8":0.2},
      {"t":2017.25,"PC1":-2.1,"PC2":0.35,"PC3":0.7,"PC4":-1.2,"PC5":0.2,"PC6":0.9,"PC7":-0.7,"PC8":-0.4},
      {"t":2017.333,"PC1":-0.95,"PC2":0.0,"PC3":1.6,"PC4":0.3,"PC5":-1.0,"PC6":-0.3,"PC7":1.0,"PC8":0.7},
      {"t":2017.417,"PC1":-1.1,"PC2":-0.65,"PC3":-0.8,"PC4":1.4,"PC5":0.5,"PC6":1.1,"PC7":0.4,"PC8":-1.0},
      {"t":2017.5,"PC1":-1.1,"PC2":-0.7,"PC3":0.4,"PC4":-0.3,"PC5":0.9,"PC6":-0.6,"PC7":-0.9,"PC8":1.2},
      {"t":2017.583,"PC1":-1.55,"PC2":-0.5,"PC3":-1.1,"PC4":0.6,"PC5":-0.4,"PC6":0.3,"PC7":1.2,"PC8":0.6},
      {"t":2017.667,"PC1":-1.7,"PC2":0.2,"PC3":1.2,"PC4":-0.5,"PC5":0.7,"PC6":0.9,"PC7":0.2,"PC8":-0.5},
      {"t":2017.75,"PC1":-1.8,"PC2":0.0,"PC3":0.3,"PC4":1.0,"PC5":-1.2,"PC6":-0.4,"PC7":-0.6,"PC8":0.7},
      {"t":2017.833,"PC1":-1.9,"PC2":0.0,"PC3":-0.6,"PC4":-0.9,"PC5":0.3,"PC6":0.7,"PC7":0.6,"PC8":1.3},
      {"t":2017.917,"PC1":-2.3,"PC2":-0.6,"PC3":0.9,"PC4":0.4,"PC5":1.1,"PC6":-0.5,"PC7":-0.3,"PC8":-0.7},
      {"t":2018.0,"PC1":-1.5,"PC2":0.3,"PC3":-1.4,"PC4":0.8,"PC5":0.6,"PC6":1.1,"PC7":0.4,"PC8":0.2},
      {"t":2018.083,"PC1":-1.25,"PC2":2.6,"PC3":1.5,"PC4":-1.6,"PC5":-0.4,"PC6":0.7,"PC7":2.0,"PC8":-0.5},
      {"t":2018.167,"PC1":-0.9,"PC2":4.5,"PC3":-2.8,"PC4":2.3,"PC5":1.1,"PC6":-1.0,"PC7":-1.8,"PC8":1.4},
      {"t":2018.25,"PC1":-1.35,"PC2":2.1,"PC3":-4.0,"PC4":-3.2,"PC5":0.3,"PC6":0.6,"PC7":1.0,"PC8":-2.2},
      {"t":2018.333,"PC1":-1.95,"PC2":1.0,"PC3":0.8,"PC4":-1.2,"PC5":-2.2,"PC6":-3.0,"PC7":-2.6,"PC8":1.9},
      {"t":2018.417,"PC1":-2.2,"PC2":0.05,"PC3":2.1,"PC4":1.2,"PC5":2.6,"PC6":-0.5,"PC7":1.5,"PC8":-1.1},
      {"t":2018.5,"PC1":-2.35,"PC2":1.0,"PC3":3.0,"PC4":-0.5,"PC5":-1.3,"PC6":1.8,"PC7":0.4,"PC8":2.5},
      {"t":2018.583,"PC1":-2.4,"PC2":0.05,"PC3":-1.5,"PC4":2.4,"PC5":1.3,"PC6":0.4,"PC7":-0.7,"PC8":-0.3},
      {"t":2018.667,"PC1":-2.5,"PC2":0.4,"PC3":1.2,"PC4":-1.0,"PC5":0.3,"PC6":-1.2,"PC7":1.6,"PC8":0.6},
      {"t":2018.75,"PC1":-2.65,"PC2":-0.4,"PC3":-0.4,"PC4":0.6,"PC5":-0.9,"PC6":1.3,"PC7":-0.6,"PC8":1.4},
      {"t":2018.833,"PC1":-1.2,"PC2":0.0,"PC3":1.8,"PC4":-1.7,"PC5":0.6,"PC6":-0.3,"PC7":0.9,"PC8":-0.8},
      {"t":2018.917,"PC1":-0.95,"PC2":1.1,"PC3":-0.7,"PC4":1.0,"PC5":-1.2,"PC6":0.6,"PC7":0.3,"PC8":1.1},
      {"t":2019.0,"PC1":-1.7,"PC2":-0.3,"PC3":0.5,"PC4":-0.3,"PC5":1.2,"PC6":-0.9,"PC7":-1.0,"PC8":0.6},
      {"t":2019.083,"PC1":1.9,"PC2":-1.4,"PC3":-1.2,"PC4":0.7,"PC5":0.4,"PC6":1.1,"PC7":-0.6,"PC8":1.1},
      {"t":2019.167,"PC1":2.15,"PC2":-1.4,"PC3":1.0,"PC4":-1.0,"PC5":1.3,"PC6":-0.6,"PC7":0.7,"PC8":-0.4},
      {"t":2019.25,"PC1":1.95,"PC2":-0.9,"PC3":0.3,"PC4":1.1,"PC5":-0.8,"PC6":0.5,"PC7":1.0,"PC8":-0.9},
      {"t":2019.333,"PC1":0.8,"PC2":-0.1,"PC3":-0.9,"PC4":-0.4,"PC5":0.6,"PC6":1.0,"PC7":-0.3,"PC8":0.8},
      {"t":2019.417,"PC1":0.5,"PC2":0.5,"PC3":1.1,"PC4":-1.2,"PC5":0.2,"PC6":-0.7,"PC7":0.6,"PC8":-0.3},
      {"t":2019.5,"PC1":-0.6,"PC2":-1.1,"PC3":-0.6,"PC4":0.6,"PC5":-1.1,"PC6":0.4,"PC7":0.9,"PC8":1.2},
      {"t":2019.583,"PC1":-1.15,"PC2":-0.4,"PC3":0.4,"PC4":-0.5,"PC5":0.9,"PC6":1.2,"PC7":-1.0,"PC8":0.4},
      {"t":2019.667,"PC1":-0.8,"PC2":-0.6,"PC3":1.3,"PC4":0.9,"PC5":-0.5,"PC6":-0.4,"PC7":0.3,"PC8":-0.6},
      {"t":2019.75,"PC1":-0.6,"PC2":-0.6,"PC3":-1.5,"PC4":1.6,"PC5":0.3,"PC6":-0.8,"PC7":1.1,"PC8":0.9},
      {"t":2019.833,"PC1":-0.7,"PC2":-0.4,"PC3":0.8,"PC4":-0.8,"PC5":1.4,"PC6":0.6,"PC7":-0.2,"PC8":0.6},
      {"t":2019.917,"PC1":-0.9,"PC2":-0.2,"PC3":3.2,"PC4":-2.1,"PC5":2.7,"PC6":1.8,"PC7":0.5,"PC8":-1.1},
      {"t":2020.0,"PC1":-0.55,"PC2":2.4,"PC3":-3.5,"PC4":2.6,"PC5":-1.8,"PC6":-2.4,"PC7":1.6,"PC8":3.0}
    ]
  }
}
